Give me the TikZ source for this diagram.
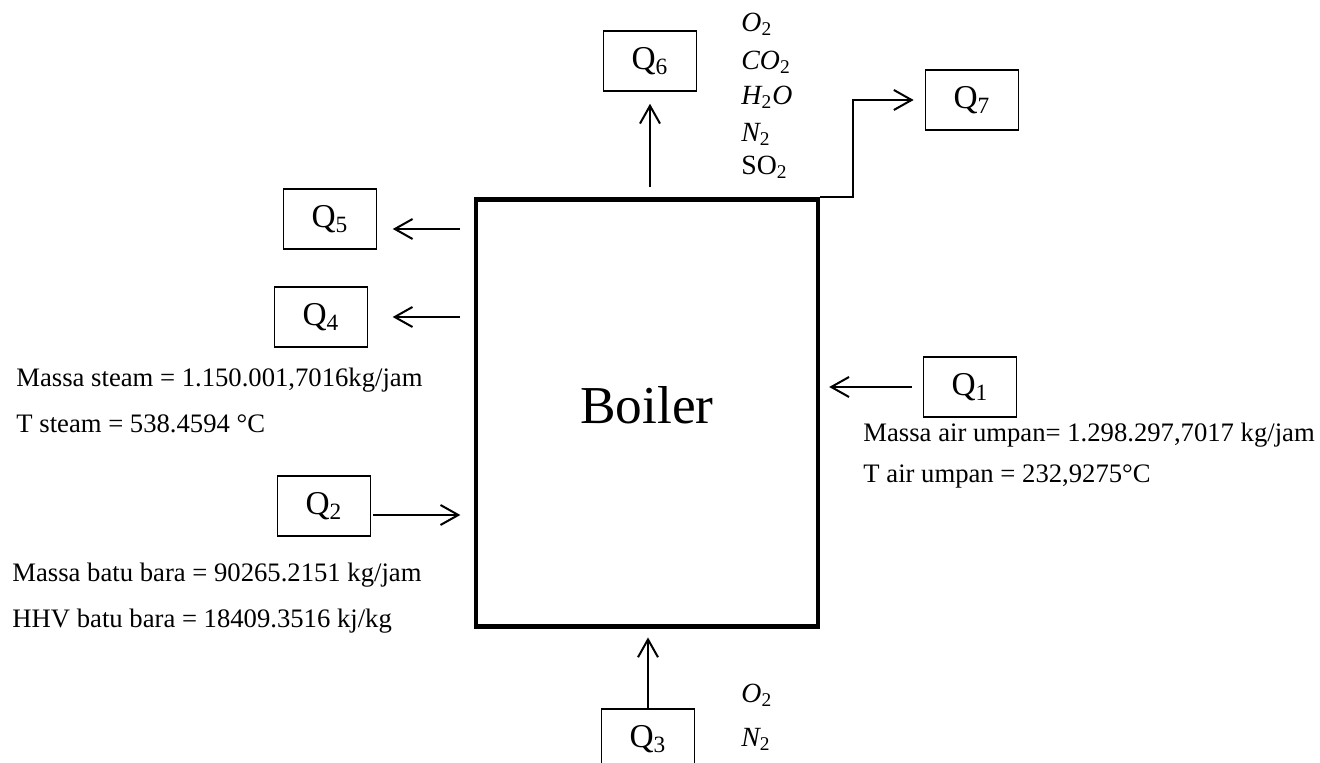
\documentclass[tikz,border=0pt]{standalone}
\usepackage{amsmath}
\usepackage{fontspec}
\setmainfont{Liberation Serif}
\usetikzlibrary{arrows.meta,positioning,calc}

\begin{document}
\begin{tikzpicture}[x=0.45pt,y=-0.45pt,every node/.style={font=\fontsize{12}{14}\selectfont},qbox/.style={draw,line width=0.5pt,minimum width=42pt,minimum height=27pt,font=\fontsize{15}{18}\selectfont},boilerbox/.style={draw,line width=2pt,minimum width=154pt,minimum height=192pt},txt/.style={anchor=base west,inner sep=0pt},chem/.style={anchor=base west,inner sep=0pt,font=\fontsize{12.5}{15}\selectfont},arr/.style={-{Straight Barb[length=8pt,width=9pt]},line width=0.9pt}]
\useasboundingbox (0,0) rectangle (1320,763);
\node[boilerbox] (boiler) at (647,413) {};
\node[font=\fontsize{24}{28}\selectfont] (boilertxt) at (647,405) {Boiler};
\node[qbox] (q1) at (970,387) {Q\textsubscript{1}};
\node[qbox] (q2) at (324,506) {Q\textsubscript{2}};
\node[qbox] (q3) at (648,739) {Q\textsubscript{3}};
\node[qbox] (q4) at (321,317) {Q\textsubscript{4}};
\node[qbox] (q5) at (330,219) {Q\textsubscript{5}};
\node[qbox] (q6) at (650,61) {Q\textsubscript{6}};
\node[qbox] (q7) at (972,100) {Q\textsubscript{7}};
\draw[arr,shorten <=5pt,shorten >=4pt] (q1.west) -- (boiler.east |- q1);
\draw[arr,shorten <=1pt,shorten >=6pt] ($(q2.east)+(0,9)$) -- ($(boiler.west |- q2)+(0,9)$);
\draw[arr,shorten >=4pt] (q3.north) -- (boiler.south -| q3);
\draw[arr,shorten <=6pt,shorten >=11pt] (boiler.west |- q4) -- (q4.east);
\draw[arr,shorten <=6pt,shorten >=7pt] ($(boiler.west |- q5)+(0,10)$) -- ($(q5.east)+(0,10)$);
\draw[arr,shorten <=4.5pt,shorten >=5.5pt] (boiler.north -| q6) -- (q6.south);
\draw[arr,shorten >=5pt] (boiler.north east) -- ++(33,0) |- (q7.west);
\node[chem] (o2top) at (741,32) {$\textit{O}_{\textrm{2}}$};
\node[chem] (co2) at (741,70) {$\textit{CO}_{\textrm{2}}$};
\node[chem] (h2o) at (741,105) {$\textit{H}_{\textrm{2}}\textit{O}$};
\node[chem] (n2top) at (741,142) {$\textit{N}_{\textrm{2}}$};
\node[chem] (so2) at (741,175) {SO\textsubscript{2}};
\node[chem] (o2bot) at (741,703) {$\textit{O}_{\textrm{2}}$};
\node[chem] (n2bot) at (741,747) {$\textit{N}_{\textrm{2}}$};
\node[txt] (msteam) at (16,387) {Massa steam = 1.150.001,7016kg/jam};
\node[txt] (tsteam) at (16,433) {T steam = 538.4594 °C};
\node[txt] (mbara) at (12,582) {Massa batu bara = 90265.2151 kg/jam};
\node[txt] (hhv) at (12,628) {HHV batu bara = 18409.3516 kj/kg};
\node[txt] (mair) at (863,442) {Massa air umpan= 1.298.297,7017 kg/jam};
\node[txt] (tair) at (863,483) {T air umpan = 232,9275°C};
\end{tikzpicture}
\end{document}
